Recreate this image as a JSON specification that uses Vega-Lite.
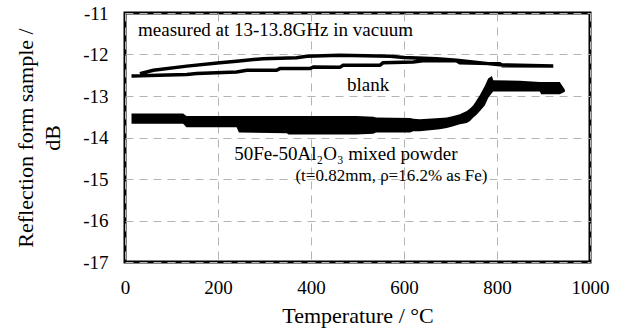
{
  "$schema": "https://vega.github.io/schema/vega-lite/v6.json",
  "width": 465,
  "height": 249,
  "autosize": {"type": "none"},
  "padding": {"left": 125, "top": 13, "right": 40, "bottom": 69},
  "background": "white",
  "config": {
    "font": "Liberation Serif",
    "view": {"stroke": "black", "strokeWidth": 3},
    "axis": {
      "grid": true,
      "gridColor": "#b4b4b4",
      "gridDash": [8, 6],
      "gridWidth": 1,
      "domain": false,
      "ticks": false,
      "labelFlush": false,
      "labelFont": "Liberation Serif",
      "labelFontSize": 19,
      "labelColor": "black",
      "labelExpr": "'' + datum.value",
      "titleFont": "Liberation Serif",
      "titleFontWeight": "normal",
      "titleColor": "black"
    }
  },
  "datasets": {
    "blank": [
      {"i": 1, "T": 14, "dB": -12.52},
      {"i": 2, "T": 72, "dB": -12.5},
      {"i": 3, "T": 133, "dB": -12.48},
      {"i": 4, "T": 154, "dB": -12.46},
      {"i": 5, "T": 240, "dB": -12.42},
      {"i": 6, "T": 262, "dB": -12.38},
      {"i": 7, "T": 326, "dB": -12.38},
      {"i": 8, "T": 333, "dB": -12.34},
      {"i": 9, "T": 398, "dB": -12.34},
      {"i": 10, "T": 405, "dB": -12.3},
      {"i": 11, "T": 462, "dB": -12.31},
      {"i": 12, "T": 469, "dB": -12.26},
      {"i": 13, "T": 548, "dB": -12.26},
      {"i": 14, "T": 555, "dB": -12.2},
      {"i": 15, "T": 620, "dB": -12.18},
      {"i": 16, "T": 640, "dB": -12.15},
      {"i": 17, "T": 713, "dB": -12.15},
      {"i": 18, "T": 720, "dB": -12.2},
      {"i": 19, "T": 806, "dB": -12.22},
      {"i": 20, "T": 812, "dB": -12.27},
      {"i": 21, "T": 921, "dB": -12.28},
      {"i": 22, "T": 806, "dB": -12.25},
      {"i": 23, "T": 713, "dB": -12.14},
      {"i": 24, "T": 670, "dB": -12.1},
      {"i": 25, "T": 600, "dB": -12.07},
      {"i": 26, "T": 570, "dB": -12.04},
      {"i": 27, "T": 462, "dB": -12.02},
      {"i": 28, "T": 391, "dB": -12.04},
      {"i": 29, "T": 369, "dB": -12.08},
      {"i": 30, "T": 297, "dB": -12.1},
      {"i": 31, "T": 240, "dB": -12.16},
      {"i": 32, "T": 204, "dB": -12.2},
      {"i": 33, "T": 133, "dB": -12.28},
      {"i": 34, "T": 61, "dB": -12.38},
      {"i": 35, "T": 32, "dB": -12.46}
    ],
    "sample": [
      {"T": 14, "hi": -13.42, "lo": -13.67},
      {"T": 125, "hi": -13.42, "lo": -13.67},
      {"T": 132, "hi": -13.48, "lo": -13.75},
      {"T": 240, "hi": -13.48, "lo": -13.75},
      {"T": 245, "hi": -13.48, "lo": -13.88},
      {"T": 348, "hi": -13.48, "lo": -13.9},
      {"T": 352, "hi": -13.48, "lo": -13.93},
      {"T": 498, "hi": -13.48, "lo": -13.93},
      {"T": 534, "hi": -13.5, "lo": -13.91},
      {"T": 540, "hi": -13.52, "lo": -13.88},
      {"T": 613, "hi": -13.53, "lo": -13.88},
      {"T": 620, "hi": -13.55, "lo": -13.85},
      {"T": 634, "hi": -13.56, "lo": -13.85},
      {"T": 677, "hi": -13.53, "lo": -13.8},
      {"T": 692, "hi": -13.52, "lo": -13.77},
      {"T": 706, "hi": -13.48, "lo": -13.73},
      {"T": 720, "hi": -13.44, "lo": -13.68},
      {"T": 735, "hi": -13.36, "lo": -13.65},
      {"T": 742, "hi": -13.3, "lo": -13.6},
      {"T": 749, "hi": -13.22, "lo": -13.52},
      {"T": 756, "hi": -13.1, "lo": -13.45},
      {"T": 763, "hi": -12.98, "lo": -13.37},
      {"T": 774, "hi": -12.75, "lo": -13.22},
      {"T": 781, "hi": -12.58, "lo": -13.05},
      {"T": 789, "hi": -12.52, "lo": -12.93},
      {"T": 792, "hi": -12.62, "lo": -12.89},
      {"T": 849, "hi": -12.63, "lo": -12.89},
      {"T": 892, "hi": -12.66, "lo": -12.89},
      {"T": 895, "hi": -12.66, "lo": -12.96},
      {"T": 935, "hi": -12.66, "lo": -12.96},
      {"T": 946, "hi": -12.85, "lo": -12.9}
    ]
  },
  "layer": [
    {
      "data": {"name": "sample"},
      "mark": {"type": "area", "color": "black", "interpolate": "linear"},
      "encoding": {
        "x": {
          "field": "T",
          "type": "quantitative",
          "scale": {"domain": [0, 1000], "nice": false},
          "axis": {"values": [0, 200, 400, 600, 800, 1000], "labelPadding": 16, "title": "Temperature  /  °C", "titleFontSize": 22, "titlePadding": 8}
        },
        "y": {
          "field": "hi",
          "type": "quantitative",
          "scale": {"domain": [-17, -11], "nice": false, "zero": false},
          "axis": {"values": [-17, -16, -15, -14, -13, -12, -11], "labelPadding": 17, "title": ["Reflection form sample   /", "dB"], "titleFontSize": 22, "titleLineHeight": 27, "titlePadding": 18}
        },
        "y2": {"field": "lo"}
      }
    },
    {
      "data": {"name": "blank"},
      "mark": {"type": "line", "color": "black", "strokeWidth": 3.5, "interpolate": "linear"},
      "encoding": {
        "x": {"field": "T", "type": "quantitative"},
        "y": {"field": "dB", "type": "quantitative"},
        "order": {"field": "i"}
      }
    },
    {
      "data": {"values": [{"T": 28, "dB": -11.42, "label": "measured at 13-13.8GHz in vacuum"}]},
      "mark": {"type": "text", "align": "left", "baseline": "middle", "fontSize": 19, "color": "black"},
      "encoding": {
        "x": {"field": "T", "type": "quantitative"},
        "y": {"field": "dB", "type": "quantitative"},
        "text": {"field": "label"}
      }
    },
    {
      "data": {"values": [{"T": 523, "dB": -12.74, "label": "blank"}, {"T": 475, "dB": -14.39, "label": "50Fe-50Al₂O₃ mixed powder"}]},
      "mark": {"type": "text", "align": "center", "baseline": "middle", "fontSize": 19, "color": "black"},
      "encoding": {
        "x": {"field": "T", "type": "quantitative"},
        "y": {"field": "dB", "type": "quantitative"},
        "text": {"field": "label"}
      }
    },
    {
      "data": {"values": [{"T": 573, "dB": -14.93, "label": "(t=0.82mm, ρ=16.2% as Fe)"}]},
      "mark": {"type": "text", "align": "center", "baseline": "middle", "fontSize": 17, "color": "black"},
      "encoding": {
        "x": {"field": "T", "type": "quantitative"},
        "y": {"field": "dB", "type": "quantitative"},
        "text": {"field": "label"}
      }
    }
  ]
}
